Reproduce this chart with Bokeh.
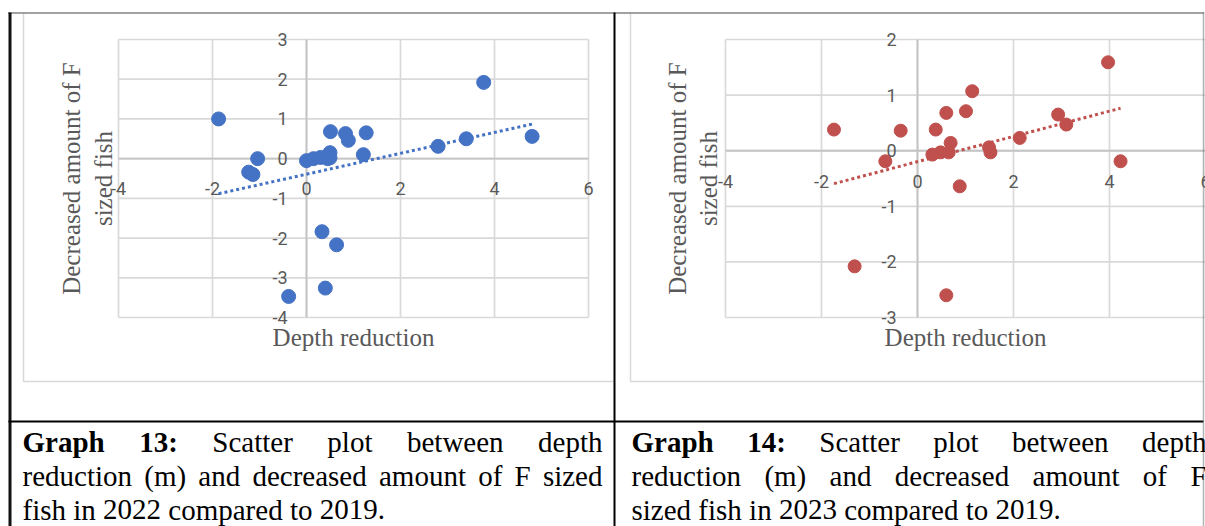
import numpy as np
from bokeh.plotting import figure
from bokeh.models import Range1d
from bokeh.embed import file_html
from bokeh.resources import INLINE
from bokeh.core.properties import value

# ---------------- data ----------------
depth_2022 = [-1.87, -1.04, -1.23, -1.14, 0.00, 0.15, 0.30, 0.45, 0.50, 0.50, 0.51,
              0.83, 0.89, 1.27, 1.21, 2.80, 3.40, 3.77, 4.80, -0.38, 0.33, 0.64, 0.40]
fish_2022 = [1.00, 0.00, -0.34, -0.40, -0.05, 0.00, 0.03, 0.00, 0.15, 0.02, 0.68,
             0.63, 0.46, 0.65, 0.10, 0.31, 0.50, 1.92, 0.56, -3.47, -1.84, -2.17, -3.26]

depth_2023 = [-1.74, -0.35, -0.67, 0.38, 0.60, 1.14, 1.01, 3.97, 2.93, 3.10, 2.13,
              1.49, 1.52, 4.23, 0.31, 0.48, 0.65, 0.69, 0.88, -1.31, 0.60]
fish_2023 = [0.38, 0.36, -0.19, 0.38, 0.68, 1.07, 0.71, 1.59, 0.65, 0.47, 0.23,
             0.06, -0.03, -0.19, -0.07, -0.03, -0.03, 0.14, -0.64, -2.08, -2.60]

x_ticks = [-4, -2, 0, 2, 4, 6]
y_ticks_2022 = [-4, -3, -2, -1, 0, 1, 2, 3]
y_ticks_2023 = [-3, -2, -1, 0, 1, 2]

x_title = "Depth reduction"
y_title = ["Decreased amount of F", "sized fish"]

caption_13 = ["Graph 13: Scatter plot between depth",
              "reduction (m) and decreased amount of F sized",
              "fish in 2022 compared to 2019."]
caption_14 = ["Graph 14: Scatter plot between depth",
              "reduction (m) and decreased amount of F",
              "sized fish in 2023 compared to 2019."]

# ---------------- canvas (coordinates = picture pixels) ----------------
W, H = 1205, 526
X0, Y0 = 0, 0
p = figure(width=W, height=H, x_range=Range1d(X0, X0 + W), y_range=Range1d(Y0 + H, Y0),
           output_backend="svg", toolbar_location=None, x_axis_type=None, y_axis_type=None,
           min_border=0, background_fill_color="white", border_fill_color="white")
p.outline_line_color = None

TICK_FONT = value("Roboto")
SERIF = value("Liberation Serif")
GRAY = "#595959"


def draw_chart(key, xs, ys, yticks, px_left, px_right, py_top, py_bottom, color, msize,
               xlab_off, ylab_off, xtitle_off, ytitle_offs):
    x_lo, x_hi = x_ticks[0], x_ticks[-1]
    y_lo, y_hi = min(yticks), max(yticks)
    sx = (px_right - px_left) / (x_hi - x_lo)
    sy = (py_bottom - py_top) / (y_hi - y_lo)
    p.extra_x_ranges[key] = Range1d(x_lo - (px_left - X0) / sx, x_lo + (X0 + W - px_left) / sx)
    p.extra_y_ranges[key] = Range1d(y_hi - (Y0 + H - py_top) / sy, y_hi + (py_top - Y0) / sy)
    kw = dict(x_range_name=key, y_range_name=key)
    nx, ny = len(x_ticks), len(yticks)
    p.segment(x0=x_ticks, y0=[y_lo] * nx, x1=x_ticks, y1=[y_hi] * nx,
              line_color="#d9d9d9", line_width=1.7, **kw)
    p.segment(x0=[x_lo] * ny, y0=yticks, x1=[x_hi] * ny, y1=yticks,
              line_color="#d9d9d9", line_width=1.7, **kw)
    p.segment(x0=[x_lo, 0], y0=[0, y_lo], x1=[x_hi, 0], y1=[0, y_hi],
              line_color="#c4c4c4", line_width=1.9, **kw)
    # tick labels
    p.text(x=x_ticks, y=[-xlab_off / sy] * nx, text=[str(t) for t in x_ticks],
           text_align="center", text_baseline="middle", text_font=TICK_FONT,
           text_font_size="18px", text_color=GRAY, **kw)
    p.text(x=[-ylab_off / sx] * ny, y=yticks, text=[str(t) for t in yticks],
           text_align="right", text_baseline="middle", text_font=TICK_FONT,
           text_font_size="18px", text_color=GRAY, **kw)
    # axis titles
    p.text(x=[(x_lo + x_hi) / 2], y=[y_lo - xtitle_off / sy], text=[x_title],
           text_align="center", text_baseline="middle", text_font=SERIF,
           text_font_size="25px", text_color=GRAY, **kw)
    p.text(x=[x_lo - o / sx for o in ytitle_offs], y=[(y_lo + y_hi) / 2] * 2, text=y_title,
           angle=np.pi / 2, text_align="center", text_baseline="middle", text_font=SERIF,
           text_font_size="25px", text_color=GRAY, **kw)
    # points and linear trendline
    p.scatter(xs, ys, size=msize, fill_color=color, line_color=color, **kw)
    slope, icpt = np.polyfit(xs, ys, 1)
    tx = np.array([min(xs), max(xs)])
    p.line(tx, slope * tx + icpt, line_color=color, line_width=3, line_dash="3 3", **kw)


draw_chart("c22", depth_2022, fish_2022, y_ticks_2022, 118, 588, 39, 317, "#4472C4", 14,
           30, 19, 20, (47, 15))
draw_chart("c23", depth_2023, fish_2023, y_ticks_2023, 725, 1205, 39, 317, "#C0504D", 13,
           31, 21, 20, (48, 17))

# chart-area frames
p.line([23, 23, 613], [13, 381, 381], line_color="#d9d9d9", line_width=1.5)
p.line([630, 630, 1203], [13, 381, 381], line_color="#d9d9d9", line_width=1.5)

# table borders
p.line([8, 1203], [12.5, 12.5], line_color="#444444", line_width=2, line_dash="1 1")
p.line([9.5, 9.5], [12, 526], line_color="#111111", line_width=3)
p.line([614, 614], [12, 526], line_color="#000000", line_width=2)
p.line([8, 1203], [421, 421], line_color="#000000", line_width=2)
p.line([1203, 1203], [12, 526], line_color="#666666", line_width=1.5, line_dash="1 1")

# ---------------- captions (justified like the document) ----------------
REG = {'a': 444, 'b': 500, 'c': 444, 'd': 500, 'e': 444, 'f': 333, 'g': 500, 'h': 500,
       'i': 278, 'l': 278, 'm': 778, 'n': 500, 'o': 500, 'p': 500, 'r': 333, 's': 389,
       't': 278, 'u': 500, 'w': 722, 'z': 444, 'S': 556, 'F': 556, 'G': 722, '(': 333,
       ')': 333, '.': 250, ':': 278, ' ': 250}
BOLD = {'G': 778, 'r': 444, 'a': 500, 'p': 556, 'h': 556, ':': 333}
CAP_SIZE = 29


def tw(s, bold):
    tab = BOLD if bold else REG
    return sum(tab.get(ch, 500) for ch in s) * CAP_SIZE / 1000.0


def draw_caption(lines, left, right, baselines):
    for li, (line, base) in enumerate(zip(lines, baselines)):
        words = line.split()
        bold = [li == 0 and wi < 2 for wi in range(len(words))]
        widths = [tw(w, b) for w, b in zip(words, bold)]
        if li < len(lines) - 1:
            gap = (right - left - sum(widths)) / (len(words) - 1)
        else:
            gap = 250 * CAP_SIZE / 1000.0
        xs, cur = [], left
        for wdt in widths:
            xs.append(cur)
            cur += wdt + gap
        for flag, style in ((True, "bold"), (False, "normal")):
            sel = [i for i in range(len(words)) if bold[i] == flag]
            if not sel:
                continue
            p.text(x=[xs[i] for i in sel], y=[base] * len(sel), text=[words[i] for i in sel],
                   text_align="left", text_baseline="alphabetic", text_font=SERIF,
                   text_font_size=f"{CAP_SIZE}px", text_font_style=style, text_color="#000000")


draw_caption(caption_13, 22, 602, [441, 475, 509])
draw_caption(caption_14, 631, 1206, [441, 475, 509])

open("out.html", "w").write(file_html(p, INLINE))
